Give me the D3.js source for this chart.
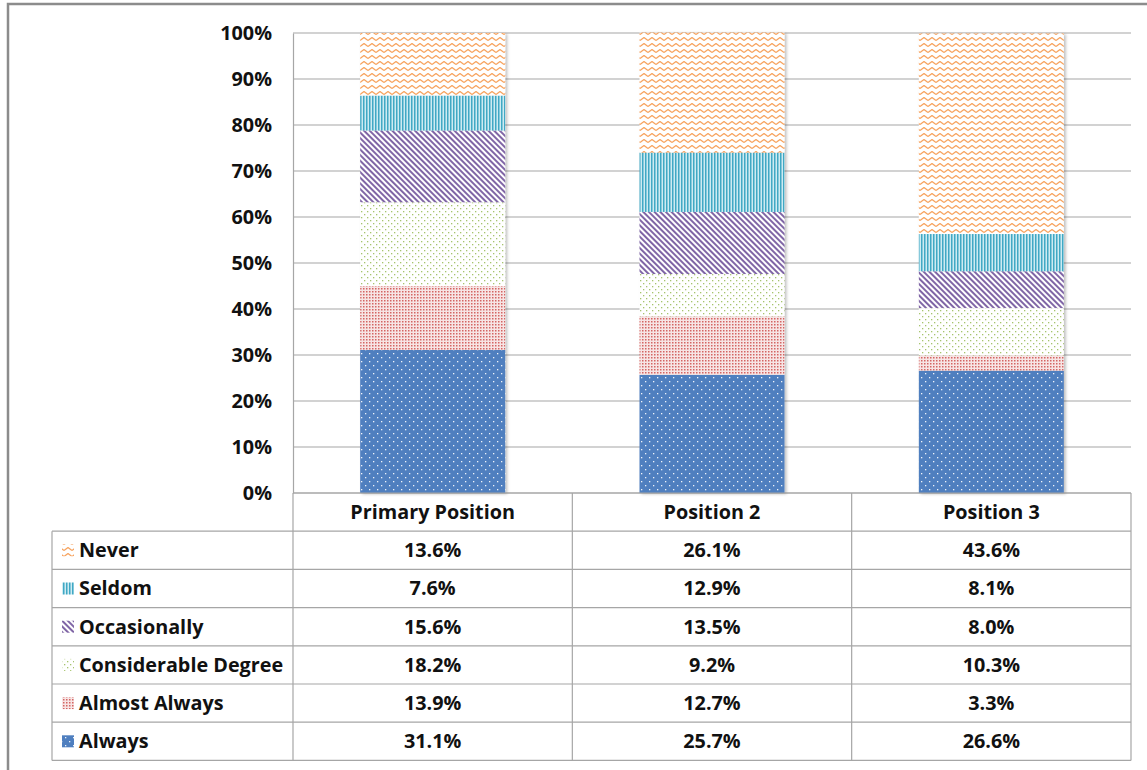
<!DOCTYPE html>
<html>
<head>
<meta charset="utf-8">
<script src="https://cdn.jsdelivr.net/npm/d3@7"></script>
<style>
  html, body { margin: 0; padding: 0; background: #fff; }
  svg { display: block; font-family: "Open Sans", Lato, sans-serif; }
</style>
</head>
<body>
<svg width="1147" height="770"></svg>
<script>
var categories = ["Primary Position", "Position 2", "Position 3"];
var seriesNames = ["Always", "Almost Always", "Considerable Degree", "Occasionally", "Seldom", "Never"];
var always       = [31.1, 25.7, 26.6];
var almostAlways = [13.9, 12.7, 3.3];
var considerable = [18.2, 9.2, 10.3];
var occasionally = [15.6, 13.5, 8.0];
var seldom       = [7.6, 12.9, 8.1];
var never        = [13.6, 26.1, 43.6];
var yTicks = [0, 10, 20, 30, 40, 50, 60, 70, 80, 90, 100];

var seriesValues = [always, almostAlways, considerable, occasionally, seldom, never];
var patternIds = ["pAlways", "pAlmost", "pConsid", "pOccas", "pSeldom", "pNever"];

var rows = categories.map(function(c, i) {
    var r = { cat: c };
    seriesNames.forEach(function(s, k) { r[s] = seriesValues[k][i]; });
    return r;
});

var svg = d3.select("svg");
var defs = svg.append("defs");

// fill patterns
var p;
p = defs.append("pattern").attr("id", "pAlways").attr("patternUnits", "userSpaceOnUse")
    .attr("width", 8).attr("height", 8);
p.append("rect").attr("width", 8).attr("height", 8).attr("fill", "#4f7fbf");
p.append("rect").attr("x", 1).attr("y", 1).attr("width", 1.3).attr("height", 1.3).attr("fill", "#eef3fa");
p.append("rect").attr("x", 5).attr("y", 5).attr("width", 1.3).attr("height", 1.3).attr("fill", "#eef3fa");

p = defs.append("pattern").attr("id", "pAlmost").attr("patternUnits", "userSpaceOnUse")
    .attr("width", 3).attr("height", 3);
p.append("rect").attr("width", 3).attr("height", 3).attr("fill", "#f7e4e4");
p.append("rect").attr("width", 1.5).attr("height", 1.5).attr("fill", "#d46563");

p = defs.append("pattern").attr("id", "pConsid").attr("patternUnits", "userSpaceOnUse")
    .attr("width", 6).attr("height", 6);
p.append("rect").attr("width", 6).attr("height", 6).attr("fill", "#fff");
p.append("rect").attr("x", 1).attr("y", 1).attr("width", 1.3).attr("height", 1.3).attr("fill", "#a6c46d");
p.append("rect").attr("x", 4).attr("y", 4).attr("width", 1.3).attr("height", 1.3).attr("fill", "#a6c46d");

p = defs.append("pattern").attr("id", "pOccas").attr("patternUnits", "userSpaceOnUse")
    .attr("width", 4).attr("height", 4).attr("patternTransform", "rotate(-45)");
p.append("rect").attr("width", 4).attr("height", 4).attr("fill", "#fff");
p.append("rect").attr("width", 2).attr("height", 4).attr("fill", "#8066a6");

p = defs.append("pattern").attr("id", "pSeldom").attr("patternUnits", "userSpaceOnUse")
    .attr("width", 3).attr("height", 3);
p.append("rect").attr("width", 3).attr("height", 3).attr("fill", "#cdebf2");
p.append("rect").attr("width", 1.5).attr("height", 3).attr("fill", "#40a8c4");

p = defs.append("pattern").attr("id", "pNever").attr("patternUnits", "userSpaceOnUse")
    .attr("width", 8).attr("height", 6);
p.append("rect").attr("width", 8).attr("height", 6).attr("fill", "#fff");
p.append("path").attr("d", "M0,4.5 L4,1.5 L8,4.5").attr("fill", "none")
    .attr("stroke", "#f7a25c").attr("stroke-width", 1.2).attr("stroke-linejoin", "round");

var shadow = defs.append("filter").attr("id", "shadow")
    .attr("x", "-10%").attr("y", "-5%").attr("width", "125%").attr("height", "110%");
shadow.append("feDropShadow").attr("dx", 2).attr("dy", 1).attr("stdDeviation", 1.5)
    .attr("flood-color", "#000").attr("flood-opacity", 0.25);

// outer frame (cropped)
svg.append("path").attr("d", "M8,770 V4 H1147").attr("fill", "none")
    .attr("stroke", "#8c8c8c").attr("stroke-width", 2.5);

var plotLeft = 293, plotRight = 1131, plotTop = 33, plotBottom = 493;
var rowH = 38.2;
var legendLeft = 52;
var fontSize = 19.8;

var x = d3.scaleBand().domain(categories).range([plotLeft, plotRight]).paddingInner(0).paddingOuter(0);
var y = d3.scaleLinear().domain([0, 100]).range([plotBottom, plotTop]);
var barW = 145;

// gridlines
svg.append("g").selectAll("line").data(yTicks).enter().append("line")
    .attr("x1", plotLeft).attr("x2", plotRight)
    .attr("y1", d => y(d)).attr("y2", d => y(d))
    .attr("stroke", "#a6a6a6").attr("stroke-width", 1.2);

// y axis
var yAxis = d3.axisLeft(y).tickValues(yTicks).tickFormat(d => d + "%").tickSize(0).tickPadding(21);
var ya = svg.append("g").attr("transform", `translate(${plotLeft},0)`).call(yAxis);
ya.select(".domain").attr("stroke", "#a6a6a6").attr("stroke-width", 1.2);
ya.selectAll("text").attr("font-size", fontSize).attr("font-weight", "bold").attr("fill", "#111")
    .attr("font-family", "'Open Sans', sans-serif");

// stacked bars
var stacked = d3.stack().keys(seriesNames)(rows);
var barG = svg.append("g");
categories.forEach(function(c, i) {
    var g = barG.append("g").attr("filter", "url(#shadow)");
    stacked.forEach(function(layer, k) {
        var d = layer[i];
        g.append("rect")
            .attr("x", x(c) + (x.bandwidth() - barW) / 2)
            .attr("width", barW)
            .attr("y", y(d[1]))
            .attr("height", y(d[0]) - y(d[1]))
            .attr("fill", "url(#" + patternIds[k] + ")");
    });
});

// data table
var table = svg.append("g");
var tableRows = seriesNames.slice().reverse();
var tableBottom = plotBottom + rowH * (tableRows.length + 1);
var lineColor = "#a6a6a6";

// horizontal lines
table.append("line").attr("x1", plotLeft).attr("x2", plotRight)
    .attr("y1", plotBottom).attr("y2", plotBottom).attr("stroke", lineColor).attr("stroke-width", 1.2);
d3.range(1, tableRows.length + 2).forEach(function(r) {
    var yy = plotBottom + r * rowH;
    table.append("line").attr("x1", legendLeft).attr("x2", plotRight)
        .attr("y1", yy).attr("y2", yy).attr("stroke", lineColor).attr("stroke-width", 1.2);
});
// vertical lines
var colEdges = categories.map(c => x(c)).concat([plotRight]);
colEdges.forEach(function(xx) {
    table.append("line").attr("x1", xx).attr("x2", xx)
        .attr("y1", plotBottom).attr("y2", tableBottom).attr("stroke", lineColor).attr("stroke-width", 1.2);
});
table.append("line").attr("x1", legendLeft).attr("x2", legendLeft)
    .attr("y1", plotBottom + rowH).attr("y2", tableBottom).attr("stroke", lineColor).attr("stroke-width", 1.2);

// header labels
table.selectAll("text.hdr").data(categories).enter().append("text")
    .attr("class", "hdr")
    .attr("x", d => x(d) + x.bandwidth() / 2)
    .attr("y", plotBottom + rowH / 2)
    .attr("dy", "0.35em")
    .attr("text-anchor", "middle")
    .attr("font-size", fontSize).attr("font-weight", "bold").attr("fill", "#111")
    .text(d => d);

// rows
tableRows.forEach(function(s, r) {
    var k = seriesNames.indexOf(s);
    var cy = plotBottom + (r + 1.5) * rowH;
    table.append("rect")
        .attr("x", 62).attr("y", cy - 6).attr("width", 12).attr("height", 12)
        .attr("fill", "url(#" + patternIds[k] + ")");
    table.append("text")
        .attr("x", 79).attr("y", cy).attr("dy", "0.35em")
        .attr("font-size", fontSize).attr("font-weight", "bold").attr("fill", "#111")
        .text(s);
    categories.forEach(function(c, i) {
        table.append("text")
            .attr("x", x(c) + x.bandwidth() / 2).attr("y", cy).attr("dy", "0.35em")
            .attr("text-anchor", "middle")
            .attr("font-size", fontSize).attr("font-weight", "bold").attr("fill", "#111")
            .text(seriesValues[k][i].toFixed(1) + "%");
    });
});
</script>
</body>
</html>
